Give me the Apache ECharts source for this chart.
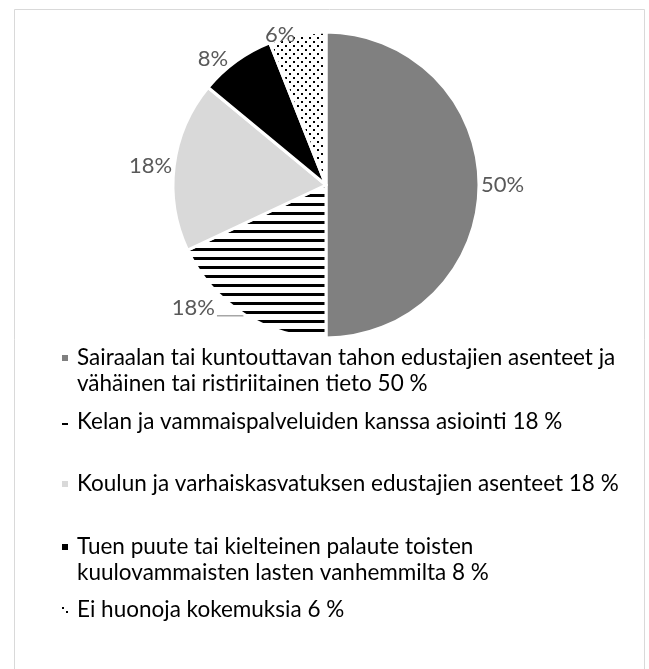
<!DOCTYPE html>
<html>
<head>
<meta charset="utf-8">
<script src="https://cdn.jsdelivr.net/npm/echarts@6/dist/echarts.min.js"></script>
<style>
  html, body { margin: 0; padding: 0; background: #fff; }
  #chart { width: 649px; height: 669px; }
</style>
</head>
<body>
<div id="chart"></div>
<script>
const categories = [
  'Sairaalan tai kuntouttavan tahon edustajien asenteet ja\nvähäinen tai ristiriitainen tieto 50 %',
  'Kelan ja vammaispalveluiden kanssa asiointi 18 %',
  'Koulun ja varhaiskasvatuksen edustajien asenteet 18 %',
  'Tuen puute tai kielteinen palaute toisten\nkuulovammaisten lasten vanhemmilta 8 %',
  'Ei huonoja kokemuksia 6 %'
];
const values = [50, 18, 18, 8, 6];
const labels = ['50%', '18%', '18%', '8%', '6%'];
// y of the first text line of each legend entry
const legendLineY = [358, 422, 484, 547, 610];

// fill patterns
function stripes() {
  const c = document.createElement('canvas');
  c.width = 9; c.height = 9;
  const ctx = c.getContext('2d');
  ctx.fillStyle = '#fff';
  ctx.fillRect(0, 0, 9, 9);
  ctx.fillStyle = '#000';
  ctx.fillRect(0, 5, 9, 3);
  return c;
}
function dots() {
  const c = document.createElement('canvas');
  c.width = 8; c.height = 8;
  const ctx = c.getContext('2d');
  ctx.fillStyle = '#fff';
  ctx.fillRect(0, 0, 8, 8);
  ctx.fillStyle = '#000';
  ctx.fillRect(1, 1, 2, 2);
  ctx.fillRect(5, 5, 2, 2);
  return c;
}

const fills = [
  '#808080',
  { image: stripes(), repeat: 'repeat' },
  '#d9d9d9',
  '#000000',
  { image: dots(), repeat: 'repeat' }
];

const font = 'Lato';
const lh = 26;

const chart = echarts.init(document.getElementById('chart'));

// one legend per entry so the gaps can follow the reference.
// two-line entries get an empty first line so the marker sits on line one
const legends = categories.map((name, i) => {
  const multi = name.indexOf('\n') >= 0;
  return {
    data: [name],
    left: 55,
    top: legendLineY[i] - (multi ? 5 + lh + lh / 2 : 5 + lh / 2),
    icon: 'rect',
    itemWidth: 8,
    itemHeight: 8,
    selectedMode: false,
    formatter: (n) => (multi ? '\n' + n : n),
    textStyle: {
      fontFamily: font,
      fontSize: 22.5,
      color: '#000',
      lineHeight: lh,
      padding: [0, 0, 0, 3]
    }
  };
});

chart.setOption({
  backgroundColor: '#fff',
  animation: false,
  graphic: [{
    type: 'rect',
    shape: { x: 14.5, y: 9.5, width: 630, height: 680 },
    style: { fill: 'none', stroke: '#d9d9d9', lineWidth: 1 },
    silent: true
  }],
  legend: legends,
  series: [{
    type: 'pie',
    center: [326, 185],
    radius: 153,
    startAngle: 90,
    clockwise: true,
    avoidLabelOverlap: false,
    itemStyle: { borderColor: '#fff', borderWidth: 3 },
    label: {
      show: true,
      position: 'outside',
      formatter: (p) => labels[p.dataIndex],
      fontFamily: font,
      fontSize: 22,
      color: '#595959',
      distanceToLabelLine: 2
    },
    labelLine: { show: false, length: 0, length2: 0 },
    labelLayout: (p) => (p.dataIndex === 1 ? { dy: -8 } : p.dataIndex === 3 ? { dx: -6, dy: -2 } : {}),
    data: categories.map((name, i) => ({
      name,
      value: values[i],
      itemStyle: { color: fills[i] },
      labelLine: i === 1
        ? { show: true, length: 2, length2: 26, lineStyle: { color: '#a6a6a6', width: 1.5 } }
        : undefined
    }))
  }]
});

window.addEventListener('resize', chart.resize);
</script>
</body>
</html>
